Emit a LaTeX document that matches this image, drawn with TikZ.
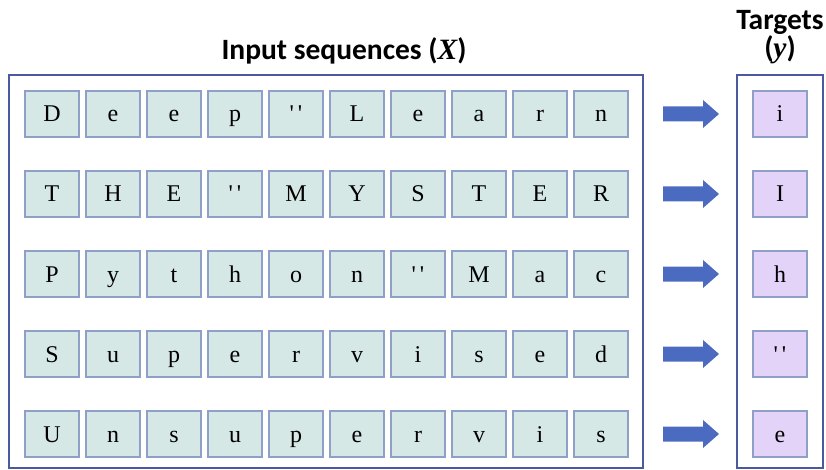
\documentclass[tikz,border=0pt]{standalone}
\usepackage{fontspec}
\setmainfont{Carlito}
\newfontfamily\cellfont[Ligatures=TeXOff]{Liberation Serif}
\definecolor{boxline}{HTML}{4A5A9C}
\definecolor{cellline}{HTML}{8EA0C8}
\definecolor{cellfill}{HTML}{D5E8E5}
\definecolor{tgtfill}{HTML}{E4D3F8}
\definecolor{arrowfill}{HTML}{4A6BC0}
\newcommand{\qmark}{'\kern4pt'}
\tikzset{
  cellbox/.style={draw=cellline, line width=1.2pt, fill=cellfill, minimum width=54pt, minimum height=46pt, inner sep=0pt, text height=16pt, text depth=0pt, font=\cellfont\fontsize{24}{24}\selectfont},
  tgtbox/.style={cellbox, fill=tgtfill},
  frame/.style={draw=boxline, line width=1.8pt},
  titletext/.style={font=\fontsize{29.5}{32}\selectfont\bfseries, anchor=base, inner sep=0pt},
  bigarrow/.style={fill=arrowfill}
}
\begin{document}
\begin{tikzpicture}[x=1pt,y=-1pt]
\useasboundingbox (0,0) rectangle (826,470);
\draw[frame] (9,75) rectangle (643,468);
\draw[frame] (737,75) rectangle (823,468);
\node[titletext] (title) at (344,60) {Input sequences ({\cellfont\bfseries\itshape X})};
\node[titletext] (tgt1) at (780,29.5) {Targets};
\node[titletext] (tgt2) at (780,58) {({\cellfont\bfseries\itshape y})};
\foreach \r/\word/\t in {1/{D,e,e,p,\qmark,L,e,a,r,n}/i, 2/{T,H,E,\qmark,M,Y,S,T,E,R}/I, 3/{P,y,t,h,o,n,\qmark,M,a,c}/h, 4/{S,u,p,e,r,v,i,s,e,d}/\qmark, 5/{U,n,s,u,p,e,r,v,i,s}/e}{
  \pgfmathsetmacro\yy{114+80*(\r-1)}
  \foreach \ch [count=\c] in \word {
    \node[cellbox] (c\r-\c) at ({52+61*(\c-1)},\yy) {\ch};
  }
  \node[tgtbox] (t\r) at (780,\yy) {\t};
  \coordinate (as\r) at (663,\yy);
  \fill[bigarrow] (as\r) ++(0,-7.5) -- ++(40,0) -- ++(0,-6.5) -- ++(16,14) -- ++(-16,14) -- ++(0,-6.5) -- ++(-40,0) -- cycle;
}
\end{tikzpicture}
\end{document}
